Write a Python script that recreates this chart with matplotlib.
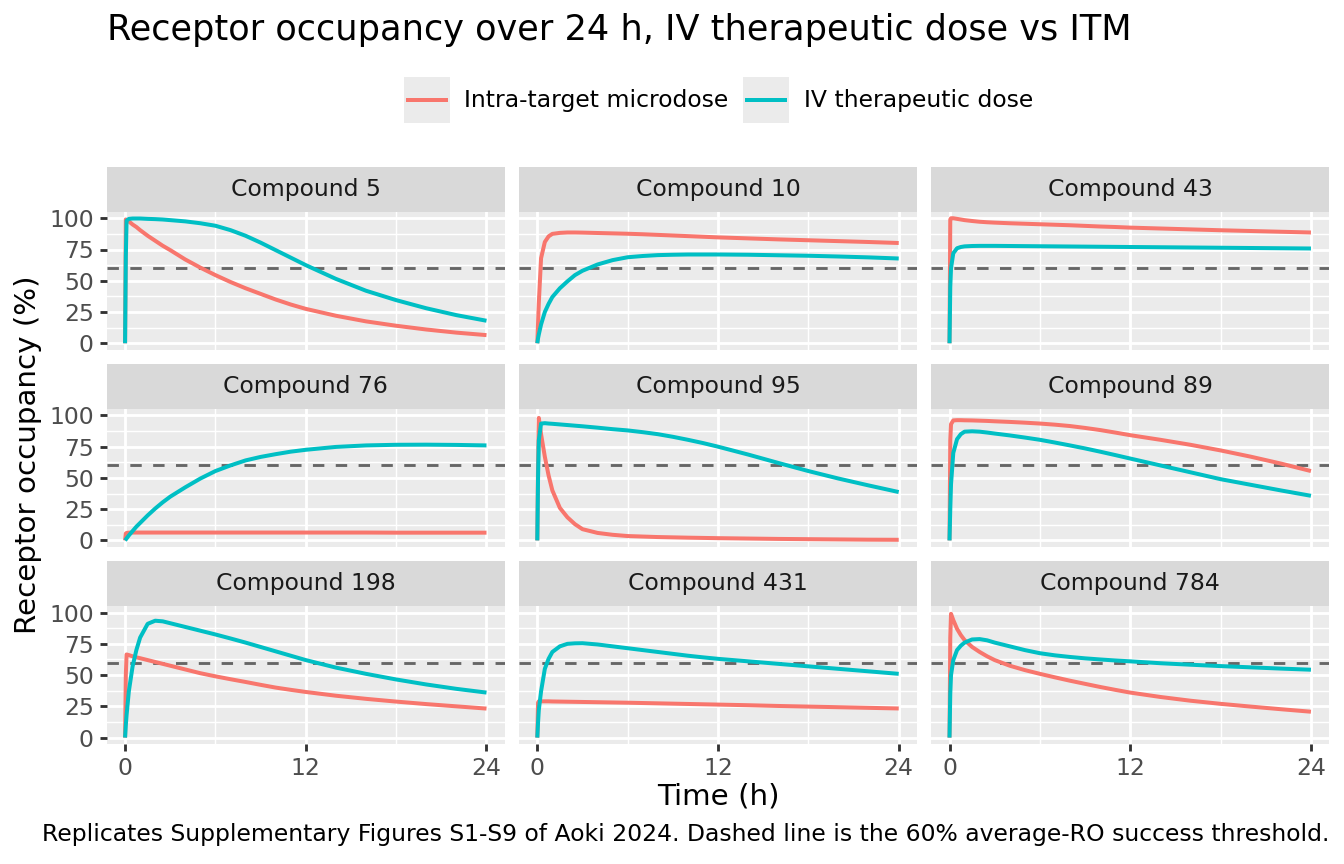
import matplotlib
matplotlib.use('Agg')
import matplotlib.pyplot as plt
from matplotlib.patches import Rectangle
from matplotlib.lines import Line2D

# time grid (h) shared by every curve
hours = [0, 0.05, 0.1, 0.25, 0.5, 0.75, 1, 1.5, 2, 2.5, 3, 4, 5, 6, 7, 8, 9, 10, 11, 12, 14, 16, 18, 20, 22, 24]

# receptor occupancy (%)
itm_5 = [0, 99, 98.5, 97.5, 95, 93, 90.5, 86, 82, 78, 74.5, 67, 60.5, 54.5, 49, 44, 39.5, 35, 31, 27.5, 22, 17.5, 14, 11, 8.5, 6.5]
iv_5 = [0, 70, 98, 99.5, 99.8, 99.8, 99.8, 99.5, 99.3, 99, 98.5, 97.5, 96, 94, 90.5, 86, 80.5, 74.5, 68.5, 62.5, 51.5, 42, 34.5, 28, 22.5, 18]
itm_10 = [0, 16, 32, 68, 81, 85.5, 87.5, 88.3, 88.6, 88.6, 88.5, 88.2, 87.9, 87.6, 87.2, 86.7, 86.2, 85.7, 85.2, 84.7, 83.9, 83.1, 82.4, 81.7, 81, 80.2]
iv_10 = [0, 4, 7, 15, 25, 31.5, 37, 44, 49.5, 54.5, 58, 63, 66.5, 68.8, 69.8, 70.5, 70.8, 71, 71, 71, 70.8, 70.4, 70, 69.4, 68.7, 67.8]
itm_43 = [0, 99, 100, 100, 99.5, 99, 98.5, 97.8, 97.2, 96.8, 96.5, 96, 95.6, 95.2, 94.8, 94.4, 93.9, 93.4, 93, 92.5, 91.8, 91.1, 90.4, 89.8, 89.2, 88.6]
iv_43 = [0, 45, 60, 72, 76, 77, 77.5, 77.8, 77.9, 77.9, 77.9, 77.8, 77.7, 77.6, 77.5, 77.4, 77.3, 77.2, 77.1, 77, 76.8, 76.6, 76.4, 76.2, 76, 75.8]
itm_76 = [0, 5.5, 6, 6.2, 6.3, 6.3, 6.3, 6.3, 6.3, 6.3, 6.3, 6.3, 6.3, 6.3, 6.3, 6.3, 6.3, 6.3, 6.3, 6.3, 6.3, 6.3, 6.2, 6.2, 6.2, 6.2]
iv_76 = [0, 0.8, 1.6, 4, 7.5, 11, 14, 20, 25.5, 30.5, 35, 42.5, 49.5, 55.5, 60, 64, 66.8, 69, 71, 72.5, 74.8, 76, 76.5, 76.6, 76.4, 76]
itm_95 = [0, 60, 98, 85, 67, 52, 40, 26, 18.5, 13, 9, 6, 4.5, 3.5, 3.1, 2.7, 2.45, 2.2, 2, 1.8, 1.5, 1.2, 1.0, 0.8, 0.6, 0.5]
iv_95 = [0, 50, 80, 93.5, 93.8, 93.5, 93.3, 92.8, 92.3, 91.8, 91.3, 90.2, 89, 88, 86.6, 85, 82.9, 80.5, 77.9, 75, 68.7, 62, 55.5, 49.5, 44, 38.7]
itm_89 = [0, 80, 93, 96, 96.2, 96.2, 96.1, 96, 95.8, 95.6, 95.3, 94.8, 94.2, 93.5, 92.6, 91.5, 90, 88.3, 86.3, 84.2, 80.5, 76.5, 72, 67, 61.5, 55.5]
iv_89 = [0, 25, 45, 70, 81, 85, 87, 87.3, 87, 86.3, 85.5, 84, 82.3, 80.5, 78.3, 76, 73.6, 71, 68.3, 65.5, 60, 54.5, 49, 44.5, 40, 35.7]
itm_198 = [0, 50, 66.5, 66, 65, 64.2, 63.5, 62, 60.5, 59, 57.5, 54.5, 51.5, 49, 46.7, 44.5, 42.2, 40, 38.2, 36.5, 33.5, 31, 28.8, 26.8, 25, 23.2]
iv_198 = [0, 10, 18, 37, 57, 70, 80, 91, 93.5, 93, 91.5, 88.5, 85.5, 82.5, 79.3, 76, 72.5, 69, 65.5, 62, 56, 51, 46.5, 42.5, 39, 36]
itm_431 = [0, 28, 29, 29, 29, 29, 28.9, 28.8, 28.7, 28.6, 28.5, 28.3, 28.1, 27.9, 27.65, 27.4, 27.15, 26.9, 26.65, 26.4, 25.9, 25.3, 24.8, 24.3, 23.8, 23.3]
iv_431 = [0, 12, 22, 37, 55, 63, 68.5, 73, 75, 75.4, 75.5, 74.5, 73, 71.5, 70, 68.5, 67, 65.5, 64.2, 63, 61, 59, 57, 55, 53, 51]
itm_784 = [0, 80, 99, 94, 87, 82, 78, 72.5, 68.5, 65, 62, 57.5, 54, 51, 48.2, 45.5, 43, 40.5, 38.2, 36, 32.5, 29.5, 27, 24.8, 22.7, 20.7]
iv_784 = [0, 35, 50, 62, 70, 73.5, 76, 78.5, 78.8, 77.8, 76, 73, 70, 67.5, 65.8, 64.5, 63.4, 62.5, 61.7, 61, 59.5, 58.3, 57.2, 56.2, 55.2, 54.3]

compounds = ['Compound 5', 'Compound 10', 'Compound 43',
             'Compound 76', 'Compound 95', 'Compound 89',
             'Compound 198', 'Compound 431', 'Compound 784']
itm_series = [itm_5, itm_10, itm_43, itm_76, itm_95, itm_89, itm_198, itm_431, itm_784]
iv_series = [iv_5, iv_10, iv_43, iv_76, iv_95, iv_89, iv_198, iv_431, iv_784]
series_names = ['Intra-target microdose', 'IV therapeutic dose']
threshold = 60
x_ticks = [0, 12, 24]
y_ticks = [0, 25, 50, 75, 100]

RED = '#F8766D'
TEAL = '#00BFC4'
W, H = 1344, 864

plt.rcParams['font.family'] = ['DejaVu Sans']
fig = plt.figure(figsize=(7, 4.5), dpi=192)


def fx(x):
    return x / W


def fy(y):
    return 1 - y / H


def box(l, t, r, b):
    return [fx(l), fy(b), (r - l) / W, (b - t) / H]


# layout in pixels (ggplot facet_wrap look)
gap = 14.67
pw = (1329 - 107 - 2 * gap) / 3
strip_h, panel_h = 45, 137.5
top0 = 167

for i, name in enumerate(compounds):
    r, c = divmod(i, 3)
    left = 107 + c * (pw + gap)
    stop = top0 + r * (strip_h + panel_h + gap)
    ptop = stop + strip_h

    sax = fig.add_axes(box(left, stop, left + pw, ptop))
    sax.set_facecolor('#D9D9D9')
    sax.set_xticks([]); sax.set_yticks([])
    for s in sax.spines.values():
        s.set_visible(False)
    sax.text(0.5, 0.5, name, ha='center', va='center', fontsize=8.8,
             color='#1A1A1A', transform=sax.transAxes)

    ax = fig.add_axes(box(left, ptop, left + pw, ptop + panel_h))
    ax.set_facecolor('#EBEBEB')
    for s in ax.spines.values():
        s.set_visible(False)
    ax.set_xlim(-1.2, 25.2)
    ax.set_ylim(-5, 105)
    ax.set_xticks(x_ticks)
    ax.set_xticks([6, 18], minor=True)
    ax.set_yticks(y_ticks)
    ax.set_yticks([12.5, 37.5, 62.5, 87.5], minor=True)
    ax.grid(which='major', color='white', linewidth=1.07)
    ax.grid(which='minor', color='white', linewidth=0.53)
    ax.set_axisbelow(True)
    ax.tick_params(which='minor', length=0)
    ax.tick_params(which='major', length=2.75, width=1.07, color='#333333',
                   labelsize=8.8, labelcolor='#4D4D4D', pad=2.2)
    if c != 0:
        ax.tick_params(axis='y', which='major', length=0, labelleft=False)
    if r != 2:
        ax.tick_params(axis='x', which='major', length=0, labelbottom=False)

    ax.axhline(threshold, color='#666666', linewidth=1.07, linestyle=(0, (4, 4)))
    ax.plot(hours, itm_series[i], color=RED, linewidth=1.5,
            solid_joinstyle='round', solid_capstyle='butt')
    ax.plot(hours, iv_series[i], color=TEAL, linewidth=1.5,
            solid_joinstyle='round', solid_capstyle='butt')

# title, axis titles, caption
fig.text(fx(107), fy(40), 'Receptor occupancy over 24 h, IV therapeutic dose vs ITM',
         fontsize=13.2, ha='left', va='baseline')
fig.text(fx(718), fy(797), 'Time (h)', fontsize=11, ha='center', va='center')
fig.text(fx(28), fy(455), 'Receptor occupancy (%)', fontsize=11, rotation=90,
         ha='center', va='center')
fig.text(fx(1329), fy(835), 'Replicates Supplementary Figures S1-S9 of Aoki 2024. '
         'Dashed line is the 60% average-RO success threshold.',
         fontsize=8.8, ha='right', va='center')

# legend drawn ggplot style
for key_x, text_x, col, label in [(404, 464, RED, series_names[0]),
                                  (743, 804, TEAL, series_names[1])]:
    fig.patches.append(Rectangle((fx(key_x), fy(123)), 46 / W, 46 / H,
                                 facecolor='#EBEBEB', edgecolor='none',
                                 transform=fig.transFigure))
    fig.lines.append(Line2D([fx(key_x + 4), fx(key_x + 42)], [fy(100), fy(100)],
                            color=col, linewidth=1.5, transform=fig.transFigure))
    fig.text(fx(text_x), fy(100), label, fontsize=8.8, ha='left', va='center')

fig.savefig('out.png', dpi=192)
